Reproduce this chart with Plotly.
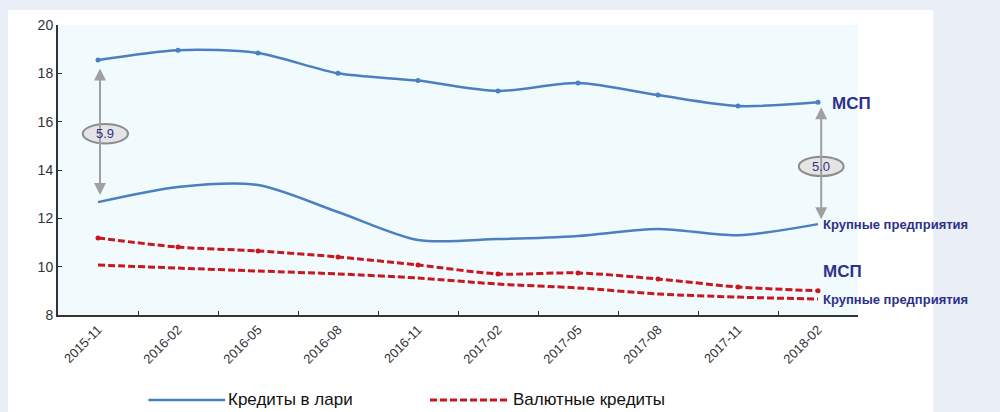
import plotly.graph_objects as go

dates = ["2015-11", "2016-02", "2016-05", "2016-08", "2016-11",
         "2017-02", "2017-05", "2017-08", "2017-11", "2018-02"]
lari_sme = [18.55, 18.96, 18.84, 18.0, 17.7, 17.27, 17.6, 17.1, 16.65, 16.8]
lari_large = [12.67, 13.3, 13.38, 12.26, 11.1, 11.14, 11.27, 11.56, 11.3, 11.76]
fx_sme = [11.19, 10.81, 10.65, 10.4, 10.07, 9.7, 9.74, 9.49, 9.16, 9.0]
fx_large = [10.07, 9.94, 9.82, 9.7, 9.53, 9.28, 9.12, 8.87, 8.74, 8.66]
gap_labels = ["5.9", "5.0"]
legend_names = ["Кредиты в лари", "Валютные кредиты"]

BLUE = "#4a7fc0"
RED = "#c8171e"
NAVY = "#2e3188"
FONT = "Liberation Sans, Arial"
DASH = "7px,3px"

fig = go.Figure()
fig.add_trace(go.Scatter(x=dates, y=lari_sme, mode="lines+markers", line=dict(color=BLUE, width=2.5, shape="spline", smoothing=0.8),
                         marker=dict(size=5, color=BLUE), name=legend_names[0], showlegend=False))
fig.add_trace(go.Scatter(x=dates, y=lari_large, mode="lines", line=dict(color=BLUE, width=2.5, shape="spline", smoothing=0.8),
                         name=legend_names[0], showlegend=False))
fig.add_trace(go.Scatter(x=dates, y=fx_sme, mode="lines+markers", line=dict(color=RED, width=3, dash=DASH, shape="spline", smoothing=0.8),
                         marker=dict(size=5, color=RED), name=legend_names[1], showlegend=False))
fig.add_trace(go.Scatter(x=dates, y=fx_large, mode="lines", line=dict(color=RED, width=3, dash=DASH, shape="spline", smoothing=0.8),
                         name=legend_names[1], showlegend=False))

# white panel
fig.add_shape(type="rect", xref="paper", yref="paper", x0=-0.0625, x1=1.094, y0=-0.5, y1=1.052,
              fillcolor="white", line=dict(width=0), layer="below")
# plot area tint
fig.add_shape(type="rect", xref="paper", yref="paper", x0=0, x1=1, y0=0, y1=1,
              fillcolor="#f1fbfe", line=dict(width=0), layer="below")

# gap arrows
arrows = [(0.025, 18.2, 12.9, -0.19, 0.375, 15.9, 15.1, gap_labels[0]),
          (9.04, 16.6, 11.9, 8.76, 9.32, 14.55, 13.75, gap_labels[1])]
for xa, ytop, ybot, ex0, ex1, ey1, ey0, lab in arrows:
    fig.add_annotation(x=xa, y=ytop, ax=xa, ay=ybot, xref="x", yref="y", axref="x", ayref="y",
                       showarrow=True, arrowhead=2, arrowside="end+start", arrowsize=1.2,
                       arrowwidth=2, arrowcolor="#a0a0a0", text="")
    fig.add_shape(type="circle", xref="x", yref="y", x0=ex0, x1=ex1, y0=ey0, y1=ey1,
                  fillcolor="#e4e4e4", line=dict(color="#8c8c8c", width=2))
    fig.add_annotation(x=(ex0 + ex1) / 2, y=(ey0 + ey1) / 2, xref="x", yref="y", text=lab, showarrow=False,
                       font=dict(family=FONT, size=13, color=NAVY))

# series labels
labels = [(9.15, 16.75, "МСП", 17), (9.04, 11.75, "Крупные предприятия", 13),
          (9.04, 9.8, "МСП", 17), (9.04, 8.65, "Крупные предприятия", 13)]
for xl, yl, t, s in labels:
    fig.add_annotation(x=xl, y=yl, xref="x", yref="y", text="<b>%s</b>" % t, showarrow=False,
                       xanchor="left", yanchor="middle",
                       font=dict(family=FONT, size=s, color=NAVY))

# legend (manual, long line samples)
ly = -0.293
leg = [(0.113, 0.209, BLUE, "solid", legend_names[0], 2.5),
       (0.465, 0.565, RED, DASH, legend_names[1], 3)]
for x0, x1, col, dash, name, w in leg:
    fig.add_shape(type="line", xref="paper", yref="paper", x0=x0, x1=x1, y0=ly, y1=ly,
                  line=dict(color=col, width=w, dash=dash))
    fig.add_annotation(x=x1, y=ly, xref="paper", yref="paper", text=name, showarrow=False,
                       xanchor="left", yanchor="middle", xshift=1,
                       font=dict(family=FONT, size=17, color="#111111"))

fig.update_layout(
    width=1000, height=412,
    margin=dict(l=58, r=142, t=25, b=97, autoexpand=False),
    paper_bgcolor="#eaeef7",
    plot_bgcolor="rgba(0,0,0,0)",
    font=dict(family=FONT, color="#333333"),
    showlegend=False,
)
fig.update_xaxes(type="category", range=[-0.5, 9.5], showline=True, linecolor="#333333", linewidth=2,
                 ticks="inside", ticklen=4, tickcolor="#333333", tickson="boundaries", automargin=False,
                 tickangle=-45, tickfont=dict(size=13, color="#333333"), showgrid=False, zeroline=False)
fig.update_yaxes(range=[8, 20], dtick=2, showline=True, linecolor="#333333", linewidth=2, automargin=False,
                 ticks="inside", ticklen=4, tickcolor="#333333", tickfont=dict(size=14, color="#333333"),
                 showgrid=False, zeroline=False)

fig.write_html("out.html")
